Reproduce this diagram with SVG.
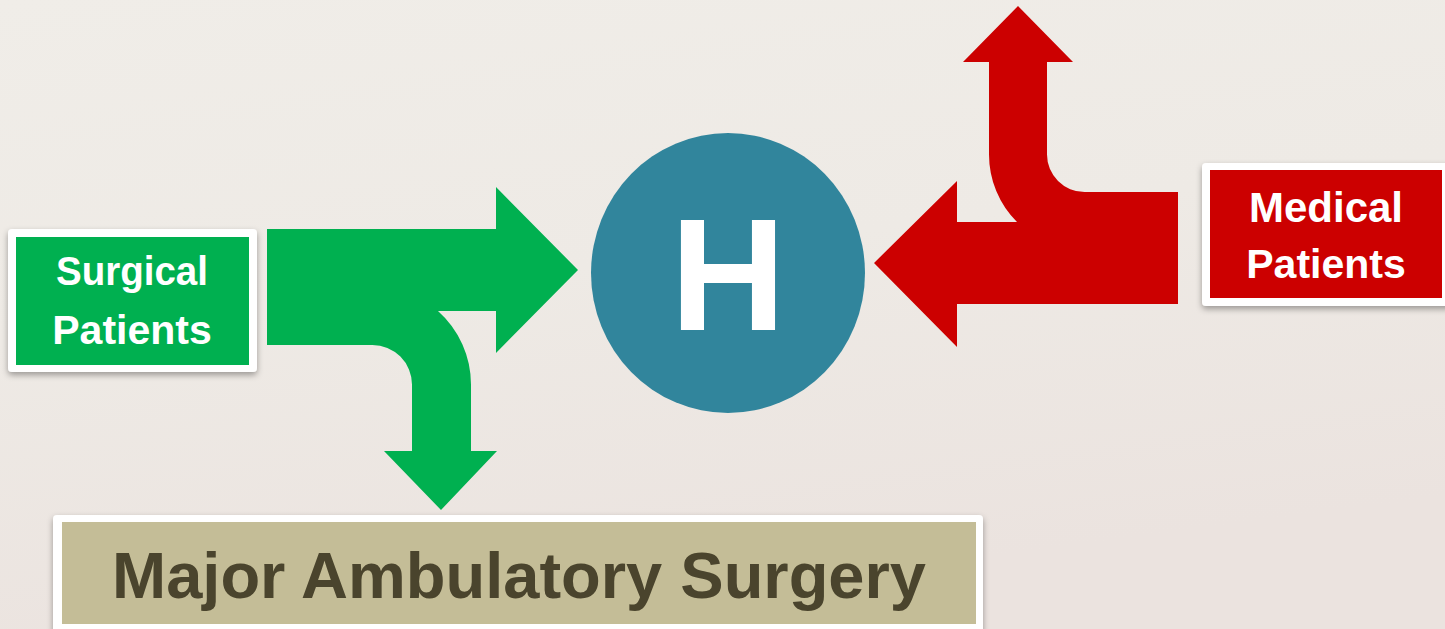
<svg xmlns="http://www.w3.org/2000/svg" width="1445" height="629" viewBox="0 0 1445 629">
  <defs>
    <linearGradient id="bg" x1="0" y1="0" x2="0.3" y2="1">
      <stop offset="0" stop-color="#f0ede8"/>
      <stop offset="0.5" stop-color="#eeeae5"/>
      <stop offset="1" stop-color="#ebe3df"/>
    </linearGradient>
    <filter id="shadow" x="-10%" y="-10%" width="120%" height="130%">
      <feDropShadow dx="0" dy="3" stdDeviation="3" flood-color="#000" flood-opacity="0.35"/>
    </filter>
  </defs>
  <style>
    .frame { fill: #ffffff; filter: url(#shadow); }
    .lbl { font-family: "Liberation Sans", Arial, sans-serif; font-weight: bold; fill: #ffffff; text-anchor: middle; }
    .green { fill: #00b050; }
    .red { fill: #cc0000; }
  </style>
  <rect x="0" y="0" width="1445" height="629" fill="url(#bg)"/>

  <g id="connectors">
    <path class="green" d="M267,229 H496 V187 L578,270 L496,353 V311 H438 A98.6,98.6 0 0 1 471,385 V451 H497 L441,510 L384,451 H412 V385 A39.6,39.6 0 0 0 372,345 H267 Z"/>
    <path class="red" d="M1178,192 V304 H957 V347 L874,263 L957,181 V222 H1017 A95.6,95.6 0 0 1 989,154.4 V62 H963 L1018,6 L1073,62 H1047 V154.4 A37.6,37.6 0 0 0 1084.6,192 Z"/>
  </g>

  <g id="surgical">
    <rect class="frame" x="8" y="229" width="249" height="143" rx="4"/>
    <rect x="16" y="237" width="233" height="128" fill="#00b050"/>
    <text class="lbl" x="132" y="285" font-size="41" textLength="152" lengthAdjust="spacingAndGlyphs">Surgical</text>
    <text class="lbl" x="132" y="344" font-size="41">Patients</text>
  </g>

  <g id="hospital">
    <ellipse cx="728" cy="273" rx="137" ry="140" fill="#31859c"/>
    <text x="728" y="330" font-family="Liberation Sans, Arial, sans-serif" font-weight="bold" font-size="160" fill="#ffffff" text-anchor="middle">H</text>
  </g>

  <g id="medical">
    <rect class="frame" x="1202" y="163" width="250" height="143" rx="4"/>
    <rect x="1210" y="170" width="232" height="128" fill="#cc0000"/>
    <text class="lbl" x="1326" y="222" font-size="42">Medical</text>
    <text class="lbl" x="1326" y="278" font-size="41">Patients</text>
  </g>

  <g id="mas">
    <rect class="frame" x="53" y="515" width="930" height="120" rx="4"/>
    <rect x="62" y="522" width="914" height="102" fill="#c4bd97"/>
    <text x="519" y="598" font-family="Liberation Sans, Arial, sans-serif" font-weight="bold" font-size="65" fill="#4a442d" text-anchor="middle">Major Ambulatory Surgery</text>
  </g>
</svg>
